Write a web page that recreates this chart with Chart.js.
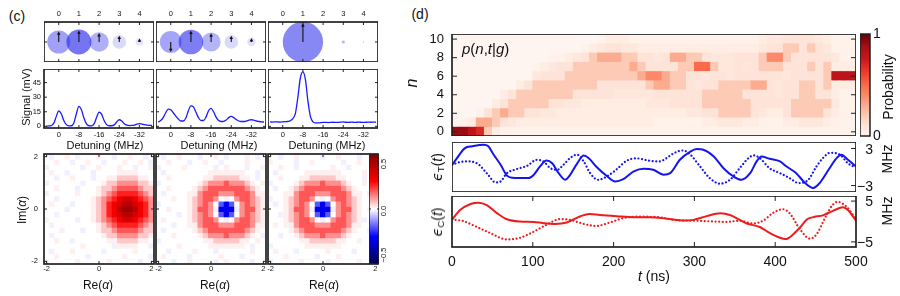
<!DOCTYPE html>
<html><head><meta charset="utf-8"><title>Photon-number control figure</title>
<script src="https://cdn.jsdelivr.net/npm/chart.js@4/dist/chart.umd.min.js"></script>
<style>
html,body{margin:0;padding:0;background:#fff;}
#root{position:relative;width:900px;height:296px;overflow:hidden;font-family:'Liberation Sans',Arial,sans-serif;color:#111;}
#root canvas{position:absolute;}
.t{position:absolute;white-space:nowrap;line-height:1;}
.m{font-family:'DejaVu Sans','Liberation Sans',sans-serif;}
sub{font-size:70%;vertical-align:-0.25em;line-height:0;}
</style></head><body><div id="root"></div>
<script>
// ================= DATA =================
const photonN = [0,1,2,3,4];
const stateAmpA = [0.57,0.62,0.48,0.34,0.19];
const stateSignA = [1,1,1,1,1];
const stateAmpB = [0.54,0.61,0.47,0.34,0.21];
const stateSignB = [-1,1,1,1,1];
const stateAmpC = [0.0,1.0,0.0,0.08,0.03];
const stateSignC = [1,1,1,1,1];

const detuning = [5,4,3,2,1,0,-1,-2,-3,-4,-5,-6,-7,-8,-9,-10,-11,-12,-13,-14,-15,-16,-17,-18,-19,-20,-21,-22,-23,-24,-25,-26,-27,-28,-29,-30,-31,-32,-33,-34,-35,-36,-37];
const signalA = [0.3,0.4,0.8,3,10,16,13,6,1.8,0.5,0.6,3.5,13,20.5,17,8.5,2.5,0.6,0.5,2.5,9,14.7,12.5,6,1.8,0.6,0.6,1.5,4.5,6.8,5.5,2.8,1.2,0.8,0.9,1.3,2.3,2.8,2.4,1.7,1.2,1.0,0.9];
const signalB = [4.5,6,9,14,17.8,17,14,10.5,7.5,5.5,5.5,8.5,16,21,20,14.5,9,6,6,9.5,16,18.4,15,9.5,6,5,5.2,6.5,9,10.2,9,7,5.5,5,5,5.5,6.5,6.8,6.3,5.5,5,4.6,4.4];
const signalC = [4.5,4.4,4.6,4.5,4.4,4.6,4.8,5,5.8,8,13,30,50,56,48,26,10,4.6,3.6,3.5,3.8,4.0,4.1,3.9,4.1,4.2,4.0,4.1,4.3,4.6,4.2,4.1,4.3,4.2,4.1,4.3,4.2,4.0,4.2,4.3,4.2,4.3,4.2];

// Wigner functions: rows from Im=+2 (top) to Im=-2 (bottom), columns Re=-2..2
// code: '.'=0, '+'=+0.015, '-'=-0.015, digit d = +0.055*d, a..f = -0.055..-0.33
const quadGrid = [-2,-1.8,-1.6,-1.4,-1.2,-1,-0.8,-0.6,-0.4,-0.2,0,0.2,0.4,0.6,0.8,1,1.2,1.4,1.6,1.8,2];
const wignerA = [
".-..+.-...+..-..+..-.",
"..+..-..+..-...+..+.-",
"-......-..+...+..-..+",
".+..-....-....++++...",
"..-..+...-..++1111++.",
"-......-...+11222211+",
"..+...-...+1123333211",
"-.....+...+1234444321",
"..-......+12345665432",
".+...-...+12456776542",
"....-....+12457887542",
"..-......+12456776542",
"+.....-..+12345665432",
".-........+1234444321",
"...+...-..+1123333211",
".-.........+11222211+",
"..+..-......++1111++.",
".......+.....-++++..-",
".-...+.....-.....+...",
"..+.....-......+....-",
"-.....+.....+.....-.."];
const wignerB = [
".-..+...-..+.-...+.-.",
"..+...-..+..-....+...",
"-....+.....-.+...-..+",
".-........+++++++..-.",
"..+......++11111++.-.",
"-.......+122232221+.+",
"..+....+12333333321+.",
".-....++23332223332++",
"...+..+12332.-.23321+",
"-.....+1232.cec.2321+",
"..+...+1332-eee-2331+",
"....-.+1232.cec.2321+",
".+....+12332.-.23321+",
"...-..++23332223332++",
".-.....+12333333321+.",
"...+....+122232221+.-",
"-........++11111++.+.",
"....+.....+++++++.-..",
"..-....+...-......+..",
".+....-.....+...-....",
"...-..+....-.+....-.."];
const wignerC = [
"..-..+....-..+...-..+",
"+....-..+.....-..+...",
"..+..-......+..-.....",
".-.....+++++++....+..",
"..+...++11111++...-..",
"-....+122232221+..+..",
".-..+12333333321+....",
"...++23332223332++.-.",
"+..+12332.-.23321+...",
".-.+1232.cec.2321+...",
"...+1332-eee-2331+.+.",
"..-+1232.cec.2321+...",
"...+12332.-.23321+-..",
".+.++23332223332++...",
"....+12333333321+..-.",
"..-..+122232221+.....",
"......++11111++..+...",
"-......+++++++.......",
".+...-.....+....-...+",
"...+.....-...+.......",
"-.....+....-.....+..."];

// Panel (d): photon-number probability p(n,t|g); row index = n, 50 time bins of 10 ns
// code: '.'=0, a=0.02, b=0.05, c=0.08, digit d = d/10
const photonRows = [0,1,2,3,4,5,6,7,8,9,10];
const heatTimes = [5,15,25,35,45,55,65,75,85,95,105,115,125,135,145,155,165,175,185,195,205,215,225,235,245,255,265,275,285,295,305,315,325,335,345,355,365,375,385,395,405,415,425,435,445,455,465,475,485,495];
const probRows = [
"99872baaaa"+"aaaaaaaaaa"+"aaaaaaaaaa"+"aaaaaaaaaa"+"aaaaaaaaaa",
".ab3321cbb"+"bbbbbbbbbb"+"bbbbbaaaaa"+"abbcccbbaa"+"abbcccbaaa",
"...a123221"+"1ccbbbbbbb"+"bbbbbbbbbc"+"c1122221cb"+"b122221baa",
".....b1222"+"2211ccbbbb"+"bbbbccc111"+"1222222111"+"1122222caa",
"......b122"+"2222211111"+"ccccc11111"+"1222221111"+"c112211baa",
"........b1"+"2222222211"+"1111233221"+"c112222331"+"c112212bbb",
".........."+"c111222222"+"2223443221"+"1c11c11111"+"1c11112888",
".........."+"abc1122222"+"2232111122"+"552cc1c122"+"2111212bbb",
".........."+"..aabc1233"+"32211c1332"+"21ccc11124"+"4211111caa",
".........."+"......abc1"+"1ccbbbbbbb"+"bbbbbbbbc1"+"122121caaa",
".........."+"........ab"+"bbaaaaaaaa"+"aaaaaaaabc"+"c1111cbaaa"];

// Control pulses (MHz) vs time (ns)
const tTs = [0,6,16,25,39,45,51,60,68,75,84,95,101,109,117,124,132,140,146,155,163,169,179,192,202,212,225,237,249,262,270,282,295,303,311,324,336,348,358,369,377,383,393,406,414,426,437,447,455,466,476,482,490,500];
const epsTsolid = [0.3,1.4,3.05,3.35,3.6,3.35,2.1,0.4,-1.4,-1.75,-1.8,-1.8,-1.3,0.1,1.05,0.6,-1.0,-2.05,-1.3,0.6,1.85,1.45,0.0,-1.5,-2.35,-1.97,-0.72,-0.3,-0.45,-1.26,-1.0,1.17,2.5,2.9,2.8,1.7,-0.2,-1.5,-2.07,-1.0,0.9,1.7,1.33,0.9,0.08,-1.0,-2.6,-3.4,-2.6,-0.45,1.44,2.0,1.17,0.08];
const tTd = [0,10,19,31,43,54,60,68,80,93,105,113,122,130,138,146,155,163,171,181,192,204,216,228,245,257,265,274,286,295,307,319,332,344,356,367,373,381,393,406,418,429,441,451,459,468,480,490,498];
const epsTdot = [0.36,0.8,0.9,0.6,-1.0,-2.5,-2.35,-1.0,-0.35,0.2,1.17,0.9,-0.2,-0.45,0.36,1.44,2.0,0.9,-1.0,-2.07,-1.5,-0.35,1.0,1.4,1.0,0.9,1.4,2.2,2.68,2.0,0.08,-1.8,-2.7,-2.07,-0.2,1.44,1.9,1.44,-0.2,-1.0,-1.8,-2.6,-2.07,0.08,1.44,2.3,2.0,0.6,0.0];
const tCs = [0,10,23,33,43,56,68,84,101,113,128,142,159,170,183,204,225,245,266,288,299,315,332,344,356,365,381,393,406,413,422,431,440,448,459,468,478,484,490,500];
const epsCsolid = [0.4,2.8,4.3,4.6,4.0,2.0,0.55,0.0,-0.1,-0.4,-0.6,-0.25,1.3,1.85,1.6,1.3,1.05,1.05,0.7,0.25,0.4,1.3,2.0,1.6,0.4,-0.5,-1.35,-2.8,-4.0,-4.3,-3.2,-1.4,0.6,1.1,1.5,2.3,3.2,3.5,2.8,0.2];
const tCd = [0,14,26,47,68,84,100,117,134,146,163,179,196,216,237,258,278,299,319,340,356,373,385,398,410,418,431,443,451,462,470,477,488,500];
const epsCdot = [0.5,0.1,-0.9,-2.8,-4.4,-4.0,-2.6,-0.8,0.6,0.4,-0.6,-1.1,-0.2,1.0,1.2,1.0,0.3,0.2,0.05,-0.1,0.2,-0.5,0.2,2.2,3.0,2.0,-2.0,-4.2,-3.2,1.0,3.8,4.8,3.7,0.6];

// Tick labels
const stateTicks = [0,1,2,3,4];
const detuneTicks = [0,-8,-16,-24,-32];
const signalTicks = [0,15,30,45];
const quadTicks = [-2,0,2];
const nTicks = [0,2,4,6,8,10];
const timeTicks = [0,100,200,300,400,500];
const probTicks = [0,1];
const epsTTicks = [-3,3];
const epsCTicks = [-5,5];
const wigBarTicks = [-0.5,0,0.5];

// ================= HELPERS =================
Chart.defaults.font.family = "'Liberation Sans', Arial, sans-serif";
Chart.defaults.color = '#111';
const R = document.getElementById('root');

const wigCode = {'.':0,'+':0.015,'-':-0.015,a:-0.055,b:-0.11,c:-0.165,d:-0.22,e:-0.275,f:-0.33};
const wdec = ch => (ch in wigCode) ? wigCode[ch] : (+ch) * 0.055;
const probCode = {'.':0,a:0.02,b:0.05,c:0.08};
const hdec = ch => (ch in probCode) ? probCode[ch] : (+ch) / 10;

function interp(P, x){ for (let i=1;i<P.length;i++){ if (x<=P[i][0]){ const t=(x-P[i-1][0])/(P[i][0]-P[i-1][0]); return P[i-1][1]+t*(P[i][1]-P[i-1][1]); } } return P[P.length-1][1]; }
const SR=[[0,0],[0.25,0],[0.5,1],[0.75,1],[1,0.5]], SG=[[0,0],[0.25,0],[0.5,1],[0.75,0],[1,0]], SB=[[0,0.3],[0.25,1],[0.5,1],[0.75,0],[1,0]];
function seismicN(x){ x=Math.max(0,Math.min(1,x)); return `rgb(${Math.round(interp(SR,x)*255)},${Math.round(interp(SG,x)*255)},${Math.round(interp(SB,x)*255)})`; }
const seismic = v => seismicN(v + 0.5);
const REDS = ['#fff5f0','#fee0d2','#fcbba1','#fc9272','#fb6a4a','#ef3b2c','#cb181d','#a50f15','#67000d'].map(h=>[parseInt(h.slice(1,3),16),parseInt(h.slice(3,5),16),parseInt(h.slice(5,7),16)]);
function redsN(x){ x=Math.max(0,Math.min(1,x)); const f=x*8, i=Math.min(7,Math.floor(f)), t=f-i; const c=REDS[i].map((v,k)=>Math.round(v+(REDS[i+1][k]-v)*t)); return `rgb(${c[0]},${c[1]},${c[2]})`; }

const fix = vals => s => { s.ticks = vals.map(v => ({value: v})); };

const FramePlugin = {
  id: 'frame',
  afterDatasetsDraw(chart, args, o) {
    const {ctx, chartArea: a, scales} = chart;
    ctx.save();
    ctx.strokeStyle = '#222';
    ctx.lineWidth = 1;
    const L = o.len || 4;
    ctx.beginPath();
    if (o.x) { const s = scales.x; o.x.vals.forEach(v => { const p = s.getPixelForValue(v);
      if (o.x.bottom !== false) { ctx.moveTo(p, a.bottom); ctx.lineTo(p, a.bottom - L); }
      if (o.x.top !== false) { ctx.moveTo(p, a.top); ctx.lineTo(p, a.top + L); } }); }
    if (o.y) { const s = scales.y; o.y.vals.forEach(v => { const p = s.getPixelForValue(v);
      if (o.y.left !== false) { ctx.moveTo(a.left, p); ctx.lineTo(a.left + L, p); }
      if (o.y.right !== false) { ctx.moveTo(a.right, p); ctx.lineTo(a.right - L, p); } }); }
    ctx.stroke();
    ctx.lineWidth = o.width || 1.7;
    ctx.strokeRect(a.left, a.top, a.right - a.left, a.bottom - a.top);
    ctx.restore();
  }
};
Chart.register(FramePlugin);

function mk(box, m, cfg, frame) {
  const c = document.createElement('canvas');
  const W = box.w + m.l + m.r, H = box.h + m.t + m.b;
  c.width = W; c.height = H;
  c.style.left = (box.x - m.l) + 'px'; c.style.top = (box.y - m.t) + 'px';
  c.style.width = W + 'px'; c.style.height = H + 'px';
  R.appendChild(c);
  const o = cfg.options || (cfg.options = {});
  Object.assign(o, {responsive:false, maintainAspectRatio:false, animation:false, devicePixelRatio:1, events:[]});
  const used = {};
  for (const s of Object.values(o.scales)) {
    const pos = s.position; used[pos] = true;
    s.afterFit = sc => {
      if (pos === 'left') sc.width = m.l; else if (pos === 'right') sc.width = m.r; else if (pos === 'top') sc.height = m.t; else sc.height = m.b;
      sc.paddingLeft = 0; sc.paddingRight = 0; sc.paddingTop = 0; sc.paddingBottom = 0;
    };
    s.grid = {display:false, drawTicks:false};
    s.border = {display:false};
    s.ticks = Object.assign({autoSkip:false, maxRotation:0, minRotation:0, color:'#111'}, s.ticks || {});
  }
  o.layout = {autoPadding:false, padding:{left: used.left?0:m.l, right: used.right?0:m.r, top: used.top?0:m.t, bottom: used.bottom?0:m.b}};
  o.plugins = Object.assign({legend:{display:false}, tooltip:{enabled:false}, frame: frame || false}, o.plugins || {});
  return new Chart(c, cfg);
}

function txt(html, x, y, size, o = {}) {
  const d = document.createElement('div');
  d.className = 't';
  d.innerHTML = html;
  d.style.fontSize = size + 'px';
  d.style.left = x + 'px'; d.style.top = y + 'px';
  const ax = o.anchor === 'l' ? '0' : o.anchor === 'r' ? '-100%' : '-50%';
  d.style.transform = `translate(${ax},-50%)` + (o.rot ? ' rotate(-90deg)' : '');
  R.appendChild(d);
}

const arrowPlugin = {
  id: 'arrows',
  afterDatasetsDraw(chart) {
    const {ctx, scales: {x, y}} = chart;
    ctx.save(); ctx.strokeStyle = '#111'; ctx.fillStyle = '#111'; ctx.lineWidth = 1.1;
    chart.data.datasets[0].data.forEach(p => {
      if (p.a < 0.1) return;
      const px = x.getPixelForValue(p.x), y0 = y.getPixelForValue(0), y1 = y.getPixelForValue(p.s * p.a * 0.93);
      const dir = Math.sign(y1 - y0);
      ctx.beginPath(); ctx.moveTo(px, y0); ctx.lineTo(px, y1 - dir * 2.5); ctx.stroke();
      ctx.beginPath(); ctx.moveTo(px, y1); ctx.lineTo(px - 1.8, y1 - dir * 3.4); ctx.lineTo(px + 1.8, y1 - dir * 3.4); ctx.closePath(); ctx.fill();
    });
    ctx.restore();
  }
};
function gradPlugin(cmap) {
  return { id: 'grad', beforeDatasetsDraw(chart) {
    const {ctx, chartArea: a} = chart;
    const g = ctx.createLinearGradient(0, a.bottom, 0, a.top);
    for (let i = 0; i <= 40; i++) g.addColorStop(i / 40, cmap(i / 40));
    ctx.save(); ctx.fillStyle = g; ctx.fillRect(a.left, a.top, a.right - a.left, a.bottom - a.top); ctx.restore();
  }};
}

// ================= PANEL (c) =================
const COLX = [44, 156, 268];
const amps = [stateAmpA, stateAmpB, stateAmpC], signs = [stateSignA, stateSignB, stateSignC];
const circleAlpha = [[0.45,0.66,0.38,0.18,0.13],[0.43,0.62,0.36,0.18,0.14],[0.3,0.57,0.3,0.35,0.5]];
const spectra = [signalA, signalB, signalC];
const wigners = [wignerA, wignerB, wignerC];
const smallFont = {size: 7.5};

for (let k = 0; k < 3; k++) {
  // phasor circles
  mk({x: COLX[k], y: 22, w: 110, h: 40}, {l:0, r:0, t:14, b:0}, {
    type: 'scatter',
    data: {datasets: [{
      data: photonN.map((n, i) => ({x: n, y: 0, a: amps[k][i], s: signs[k][i]})),
      pointRadius: ctx => { if (!ctx.raw) return 0; const s = ctx.chart.scales.x; return Math.abs(s.getPixelForValue(ctx.raw.a) - s.getPixelForValue(0)); },
      pointBackgroundColor: ctx => `rgba(45,45,238,${circleAlpha[k][ctx.dataIndex] || 0.4})`,
      pointBorderWidth: 0, pointBorderColor: 'rgba(0,0,0,0)', clip: 0
    }]},
    options: {scales: {
      x: {type:'linear', position:'top', min:-0.73, max:4.72, ticks:{font:smallFont, padding:3.5, callback:v=>String(v)}, afterBuildTicks: fix(stateTicks)},
      y: {type:'linear', position:'left', min:-1, max:1, ticks:{display:false}}
    }},
    plugins: [arrowPlugin]
  }, {x:{vals:stateTicks}, y:{vals:[0]}, len:3});

  // spectra
  mk({x: COLX[k], y: 69, w: 110, h: 59}, {l: k === 0 ? 44 : 0, r:0, t:0, b:14}, {
    type: 'line',
    data: {datasets: [{
      data: detuning.map((d, i) => ({x: d, y: spectra[k][i]})),
      borderColor: '#1a1aff', borderWidth: 1.3, pointRadius: 0, cubicInterpolationMode: 'monotone', clip: 0
    }]},
    options: {scales: {
      x: {type:'linear', position:'bottom', reverse:true, min:-37.8, max:5.85, ticks:{font:smallFont, padding:2.5, callback:v=>String(v)}, afterBuildTicks: fix(detuneTicks)},
      y: {type:'linear', position:'left', min:-1.7, max:59, ticks:{display: k === 0, font:smallFont, padding:3, callback:v=>String(v)}, afterBuildTicks: fix(signalTicks)}
    }}
  }, {x:{vals:detuneTicks}, y:{vals:signalTicks}, len:3});

  // Wigner function heat maps
  const rows = wigners[k];
  mk({x: COLX[k], y: 154, w: 110, h: 110}, {l: k === 0 ? 44 : 5, r:5, t:5, b:12}, {
    type: 'bar',
    data: {datasets: rows.map((row, i) => {
      const im = quadGrid[20 - i];
      return {
        data: quadGrid.map((re, j) => ({x: re, y: [im - 0.1, im + 0.1], v: wdec(row[j] || '.')})),
        backgroundColor: ctx => ctx.raw ? seismic(ctx.raw.v) : '#fff',
        borderWidth: 0, grouped: false, barPercentage: 1, categoryPercentage: 1, inflateAmount: 0.4, clip: 0
      };
    })},
    options: {scales: {
      x: {type:'linear', position:'bottom', offset:false, min:-2.1, max:2.1, ticks:{font:smallFont, padding:0, callback:v=>String(v)}, afterBuildTicks: fix(quadTicks)},
      y: {type:'linear', position:'left', min:-2.1, max:2.1, ticks:{display: k === 0, font:smallFont, padding:6, callback:v=>String(v)}, afterBuildTicks: fix(quadTicks)}
    }}
  }, {x:{vals:quadTicks}, y:{vals:quadTicks}, len:3});
}

// Wigner colour bar
mk({x: 369, y: 154, w: 10, h: 110}, {l:0, r:0, t:0, b:0}, {
  type: 'scatter', data: {datasets: [{data: []}]},
  options: {scales: {
    x: {type:'linear', position:'bottom', min:0, max:1, ticks:{display:false}},
    y: {type:'linear', position:'right', min:-0.5, max:0.5, ticks:{display:false}}
  }},
  plugins: [gradPlugin(seismicN)]
}, {y:{vals:wigBarTicks}, len:2, width:1.5});

// ================= PANEL (d) =================
mk({x: 452, y: 34, w: 404, h: 102}, {l:52, r:0, t:0, b:0}, {
  type: 'bar',
  data: {datasets: photonRows.map(n => ({
    data: heatTimes.map((t, i) => ({x: t, y: [n - 0.5, n + 0.5], v: hdec(probRows[n][i] || '.')})),
    backgroundColor: ctx => ctx.raw ? redsN(ctx.raw.v) : '#fff',
    borderWidth: 0, grouped: false, barPercentage: 1, categoryPercentage: 1, inflateAmount: 0.4, clip: 0
  }))},
  options: {scales: {
    x: {type:'linear', position:'bottom', offset:false, min:0, max:500, ticks:{display:false}},
    y: {type:'linear', position:'left', min:-0.45, max:10.55, ticks:{font:{size:13}, padding:8, callback:v=>String(v)}, afterBuildTicks: fix(nTicks)}
  }}
}, {y:{vals:nTicks}, len:5});

mk({x: 860, y: 34, w: 10, h: 102}, {l:0, r:30, t:9, b:9}, {
  type: 'scatter', data: {datasets: [{data: []}]},
  options: {scales: {
    x: {type:'linear', position:'bottom', min:0, max:1, ticks:{display:false}},
    y: {type:'linear', position:'right', min:0, max:1, ticks:{font:{size:14}, padding:3, callback:v=>String(v)}, afterBuildTicks: fix(probTicks)}
  }},
  plugins: [gradPlugin(redsN)]
}, {len:2, width:1.5});

const lineDs = (ts, vs, color, dotted) => ({
  data: ts.map((t, i) => ({x: t, y: vs[i]})),
  borderColor: color, borderWidth: dotted ? 2.2 : 2, pointRadius: 0, showLine: true,
  cubicInterpolationMode: 'monotone', clip: 0,
  borderDash: dotted ? [0.01, 3.6] : [], borderCapStyle: dotted ? 'round' : 'butt'
});

mk({x: 452, y: 142, w: 404, h: 50}, {l:0, r:0, t:0, b:0}, {
  type: 'scatter',
  data: {datasets: [lineDs(tTd, epsTdot, '#1414f0', true), lineDs(tTs, epsTsolid, '#1414f0', false)]},
  options: {scales: {
    x: {type:'linear', position:'bottom', min:0, max:500, ticks:{display:false}},
    y: {type:'linear', position:'right', min:-4.05, max:4.05, ticks:{display:false}}
  }}
}, {y:{vals:epsTTicks, left:false}, len:5});

mk({x: 452, y: 196, w: 404, h: 51}, {l:14, r:16, t:0, b:25}, {
  type: 'scatter',
  data: {datasets: [lineDs(tCd, epsCdot, '#ee1c1c', true), lineDs(tCs, epsCsolid, '#ee1c1c', false)]},
  options: {scales: {
    x: {type:'linear', position:'bottom', min:0, max:500, ticks:{font:{size:14}, padding:7, callback:v=>String(v)}, afterBuildTicks: fix(timeTicks)},
    y: {type:'linear', position:'right', min:-6.25, max:6.25, ticks:{display:false}}
  }}
}, {x:{vals:[100,200,300,400]}, y:{vals:epsCTicks, left:false}, len:5});

// ================= TEXT =================
txt('(c)', 17, 16, 14);
txt('(d)', 420, 14, 14);
txt('Signal (mV)', 26, 97, 11, {rot:true});
txt('Detuning (MHz)', 105, 145, 11);
txt('Detuning (MHz)', 219, 145, 11);
txt('Detuning (MHz)', 327, 145, 11);
txt('Im(<i>α</i>)', 22, 210, 12, {rot:true});
txt('Re(<i>α</i>)', 98, 285, 12);
txt('Re(<i>α</i>)', 215, 285, 12);
txt('Re(<i>α</i>)', 324, 285, 12);
txt('0.5', 384, 164, 7.5, {rot:true});
txt('0.0', 384, 211, 7.5, {rot:true});
txt('−0.5', 384, 255, 7.5, {rot:true});
txt('<i>n</i>', 412, 83, 16, {rot:true});
txt('<i>p</i>(<i>n</i>,<i>t</i>|<i>g</i>)', 462, 48, 15, {anchor:'l'});
txt('Probability', 888, 87, 14, {rot:true});
txt('<i class="m">ϵ</i><sub>T</sub>(<i>t</i>)', 437, 167, 14, {rot:true});
txt('<i class="m">ϵ</i><sub>C</sub>(<i>t</i>)', 437, 222, 14, {rot:true});
txt('MHz', 887, 159, 14, {rot:true});
txt('MHz', 887, 211, 14, {rot:true});
txt('3', 873, 149, 14, {anchor:'r'});
txt('−3', 873, 186, 14, {anchor:'r'});
txt('5', 873, 201, 14, {anchor:'r'});
txt('−5', 873, 242, 14, {anchor:'r'});
txt('<i>t</i> (ns)', 654, 276, 14);
</script></body></html>
